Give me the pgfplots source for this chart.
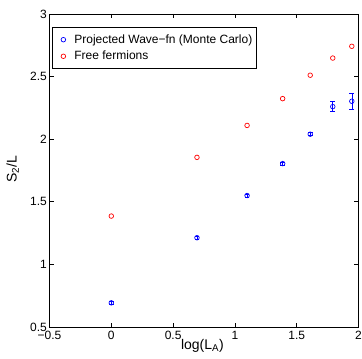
\documentclass[border=0pt]{standalone}
\usepackage{fontspec}
\setmainfont{Liberation Sans}
\usepackage{pgfplots}
\pgfplotsset{compat=1.18}
\newcommand{\f}{\fontsize{12}{14}\selectfont}
\newcommand{\fl}{\fontsize{14}{16}\selectfont}
\begin{document}
\begin{tikzpicture}
\begin{axis}[
  scale only axis,
  width=309pt, height=313pt,
  xmin=-0.5, xmax=2, ymin=0.5, ymax=3,
  xtick={-0.5,0,0.5,1,1.5,2},
  xticklabels={−0.5,0,0.5,1,1.5,2},
  ytick={0.5,1,1.5,2,2.5,3},
  yticklabels={0.5,1,1.5,2,2.5,3},
  tick align=inside,
  major tick length=4pt,
  tick style={black, line width=0.6pt},
  axis line style={black, line width=0.8pt},
  tick label style={font=\f},
  xticklabel style={inner sep=0pt, yshift=-4pt},
  yticklabel style={inner sep=0pt, xshift=-2.5pt},
  xlabel={log(L\textsubscript{A})},
  ylabel={S\textsubscript{2}/L},
  xlabel style={font=\fl, at={(axis description cs:0.495,-0.0703)}, anchor=base, inner sep=0pt},
  ylabel style={font=\fl, at={(axis description cs:-0.106,0.505)}, anchor=base, inner sep=0pt},
  legend style={font=\f, at={(axis description cs:0.008,0.9585)}, anchor=north west,
    draw=black, line width=0.8pt, fill=white, inner xsep=2pt, inner ysep=4pt,
    nodes={inner xsep=2pt, inner ysep=3.2pt}, row sep=0pt},
  legend cell align=left,
  legend image code/.code={\path[draw=none,fill=none] (0pt,-1pt) rectangle (18pt,1pt); \draw[#1] plot coordinates {(9pt,0pt)};},
]
\addplot[only marks, blue, mark=o, mark size=2.3pt, line width=0.7pt,
  error bars/.cd, y dir=both, y explicit,
  error mark options={rotate=90, mark size=2.4pt, blue, line width=0.6pt},
  error bar style={line width=0.6pt, blue}]
  coordinates {
  (0,0.693) +- (0,0.012)
  (0.6931,1.213) +- (0,0.012)
  (1.0986,1.550) +- (0,0.012)
  (1.3863,1.805) +- (0,0.012)
  (1.6094,2.040) +- (0,0.012)
  (1.7918,2.260) +- (0,0.039)
  (1.9459,2.303) +- (0,0.063)
  };
\addlegendentry{Projected Wave−fn (Monte Carlo)}
\addplot[only marks, red, mark=o, mark size=2.3pt, line width=0.7pt]
  coordinates {
  (0,1.386)
  (0.6931,1.855)
  (1.0986,2.110)
  (1.3863,2.324)
  (1.6094,2.511)
  (1.7918,2.648)
  (1.9459,2.742)
  };
\addlegendentry{Free fermions}
\end{axis}
\pgfresetboundingbox
\path (-49.5pt,-32pt) rectangle (312.5pt,327pt);
\end{tikzpicture}
\end{document}
